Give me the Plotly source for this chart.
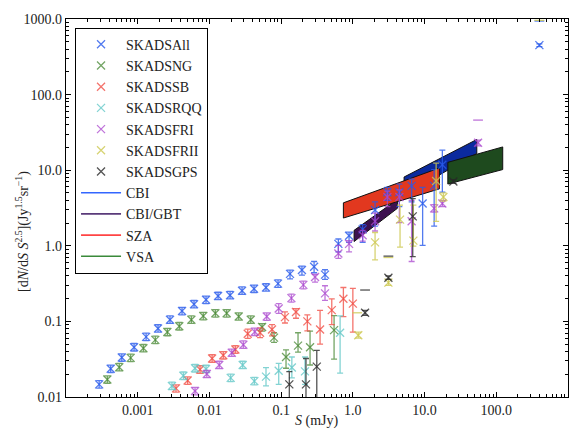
import plotly.graph_objects as go

# ---------------- data ----------------
all_S = [2.9e-4, 4.2e-4, 6.0e-4, 8.9e-4, 1.31e-3, 1.92e-3, 2.82e-3, 4.15e-3, 6.1e-3, 8.97e-3,
         0.0132, 0.0194, 0.0285, 0.0419, 0.0615, 0.0905, 0.133, 0.195, 0.288, 0.409,
         0.628, 0.885, 1.37, 2.04, 3.03, 4.45, 6.6, 9.4, 13.6, 17.7, 399]
all_N = [0.0147, 0.0236, 0.0333, 0.0455, 0.0624, 0.0806, 0.105, 0.137, 0.169, 0.193,
         0.217, 0.222, 0.255, 0.270, 0.281, 0.316, 0.425, 0.478, 0.527, 0.416,
         1.06, 1.36, 1.65, 2.98, 5.12, 5.12, 6.2, 3.63, 6.2, 11.8, 451]
all_hi = [0.0165, 0.0264, 0.0373, 0.051, 0.07, 0.0903, 0.118, 0.153, 0.189, 0.216,
          0.243, 0.249, 0.286, 0.302, 0.315, 0.354, 0.478, 0.54, 0.62, 0.482,
          1.23, 1.52, 1.91, 3.81, 5.93, 6.56, 7.6, 5.93, 10.2, 18.4, 470]
all_lo = [0.0131, 0.0211, 0.0297, 0.0406, 0.0557, 0.072, 0.094, 0.122, 0.151, 0.172,
          0.194, 0.198, 0.228, 0.241, 0.251, 0.282, 0.366, 0.41, 0.44, 0.359,
          0.83, 1.11, 1.11, 1.82, 4.0, 3.29, 3.81, 1.01, 1.82, 5.12, 430]
all_cap_S = [399]
all_cap_N = [940]

ng_S = [3.77e-4, 5.53e-4, 7.98e-4, 1.2e-3, 1.76e-3, 2.59e-3, 3.8e-3, 5.6e-3, 8.2e-3, 0.0121,
        0.0174, 0.0256, 0.0377, 0.0542, 0.0796, 0.117, 0.172, 0.253, 0.547]
ng_N = [0.017, 0.0248, 0.0329, 0.0442, 0.057, 0.0723, 0.0863, 0.105, 0.118, 0.128,
        0.128, 0.116, 0.105, 0.0845, 0.061, 0.0338, 0.0478, 0.0455, 0.0767]
ng_hi = [0.019, 0.0278, 0.0368, 0.0495, 0.064, 0.081, 0.0967, 0.118, 0.132, 0.143,
         0.143, 0.13, 0.118, 0.0933, 0.0708, 0.042, 0.0708, 0.0745, 0.119]
ng_lo = [0.0152, 0.0221, 0.0294, 0.0395, 0.0509, 0.0646, 0.077, 0.094, 0.105, 0.114,
         0.114, 0.104, 0.094, 0.0745, 0.0527, 0.024, 0.0393, 0.0265, 0.0316]

sb_S = [3.42e-3, 4.97e-3, 7.4e-3, 0.0109, 0.0156, 0.023, 0.0342, 0.0508, 0.0746, 0.113,
        0.161, 0.232, 0.349, 0.508, 0.738, 1.0]
sb_N = [0.013, 0.0165, 0.0231, 0.0323, 0.0356, 0.0425, 0.0687, 0.0708, 0.0783, 0.114,
        0.133, 0.1, 0.078, 0.141, 0.199, 0.172]
sb_hi = [0.0145, 0.0185, 0.0259, 0.0362, 0.0399, 0.0476, 0.079, 0.0821, 0.0906, 0.134,
         0.148, 0.122, 0.14, 0.198, 0.281, 0.273]
sb_lo = [0.0116, 0.0147, 0.0206, 0.0288, 0.0318, 0.0379, 0.0597, 0.0611, 0.0642, 0.0952,
         0.11, 0.075, 0.05, 0.0907, 0.116, 0.0723]

rqq_S = [3.0e-3, 4.33e-3, 6.3e-3, 8.97e-3, 0.0198, 0.0291, 0.0423, 0.0615, 0.0925, 0.141,
         0.215, 0.664]
rqq_N = [0.014, 0.0191, 0.024, 0.0235, 0.0179, 0.0265, 0.0162, 0.0186, 0.0222, 0.0245,
         0.0218, 0.0708]
rqq_hi = [0.0157, 0.0214, 0.0269, 0.0263, 0.0201, 0.0297, 0.0182, 0.0245, 0.0278, 0.0338,
          0.0338, 0.118]
rqq_lo = [0.0125, 0.017, 0.0214, 0.021, 0.016, 0.0237, 0.0145, 0.014, 0.0147, 0.0179,
          0.0147, 0.0207]

fri_S = [6.3e-3, 9.2e-3, 0.0137, 0.0205, 0.0297, 0.0429, 0.063, 0.0925, 0.139, 0.204,
         0.297, 0.409, 0.628, 0.885, 1.37, 2.04, 3.03, 4.45, 6.6, 13.6, 17.7, 55.7]
fri_N = [0.012, 0.0201, 0.0265, 0.0385, 0.0492, 0.0729, 0.116, 0.148, 0.203, 0.304,
         0.386, 0.235, 0.79, 1.06, 1.38, 2.11, 4.42, 4.42, 2.11, 3.13, 3.63, 23.1]
fri_hi = [0.0134, 0.0225, 0.0297, 0.0431, 0.0551, 0.0816, 0.13, 0.172, 0.23, 0.34,
          0.42, 0.296, 1.01, 1.17, 1.6, 2.7, 5.3, 5.5, 4.0, 3.5, 4.0, 25.0]
fri_lo = [0.0107, 0.018, 0.0237, 0.0344, 0.044, 0.0651, 0.103, 0.128, 0.18, 0.27,
          0.33, 0.19, 0.68, 0.83, 1.15, 1.57, 3.3, 2.03, 0.62, 2.8, 3.3, 21.0]
fri_cap_S = [55.7]
fri_cap_N = [46]

frii_S = [1.19, 2.04, 3.13, 4.55, 6.98, 14.5, 18.3]
frii_N = [0.0656, 1.11, 0.326, 2.22, 1.17, 7.2, 4.42]
frii_hi = [0.072, 1.5, 0.36, 3.45, 3.45, 12.4, 5.0]
frii_lo = [0.06, 0.65, 0.3, 0.96, 0.99, 2.11, 3.9]
frii_cap_S = [1.15, 3.13, 399]
frii_cap_N = [0.13, 0.70, 960]

gps_S = [0.13, 0.222, 0.314, 1.48, 3.13, 6.84, 25.2]
gps_N = [0.0147, 0.0147, 0.0252, 0.13, 0.378, 2.45, 7.08]
gps_hi = [0.0217, 0.0323, 0.0413, 0.14, 0.4, 4.2, 7.5]
gps_lo = [0.001, 0.001, 0.001, 0.12, 0.36, 0.72, 6.7]
gps_cap_S = [1.48, 3.13]
gps_cap_N = [0.26, 0.73]

# observational bands: S range, lower and upper edge at each end
band_names = ["CBI", "CBI/GBT", "SZA", "VSA"]
band_S = [[5.18, 53.5], [1.04, 4.18], [0.738, 16.1], [21.1, 123]]
band_lo = [[4.64, 16.7], [1.14, 3.13], [2.33, 5.66], [6.56, 10.2]]
band_hi = [[8.13, 25.5], [1.6, 4.1], [3.7, 10.7], [12.7, 20.3]]
band_fill = ["#0b2a9e", "#3d1150", "#e2381f", "#1e4a1e"]
band_line = ["#3366ff", "#5a3a7a", "#ff4444", "#3a8a3a"]

series = [
    ("SKADSAll", all_S, all_N, all_hi, all_lo, all_cap_S, all_cap_N, "rgba(40,90,235,0.8)"),
    ("SKADSNG", ng_S, ng_N, ng_hi, ng_lo, [], [], "rgba(70,135,50,0.75)"),
    ("SKADSSB", sb_S, sb_N, sb_hi, sb_lo, [], [], "rgba(240,70,60,0.75)"),
    ("SKADSRQQ", rqq_S, rqq_N, rqq_hi, rqq_lo, [], [], "rgba(100,200,200,0.8)"),
    ("SKADSFRI", fri_S, fri_N, fri_hi, fri_lo, fri_cap_S, fri_cap_N, "rgba(170,70,205,0.75)"),
    ("SKADSFRII", frii_S, frii_N, frii_hi, frii_lo, frii_cap_S, frii_cap_N, "rgba(205,200,80,0.8)"),
    ("SKADSGPS", gps_S, gps_N, gps_hi, gps_lo, gps_cap_S, gps_cap_N, "rgba(40,40,40,0.8)"),
]

xtick_vals = [0.001, 0.01, 0.1, 1, 10, 100, 1000]
xtick_text = ["0.001", "0.01", "0.1", "1.0", "10.0", "100.0", "1000.0"]
ytick_vals = [0.01, 0.1, 1, 10, 100, 1000]
ytick_text = ["0.01", "0.1", "1.0", "10.0", "100.0", "1000.0"]

FONT = "Liberation Serif"

fig = go.Figure()

# bands
for i, nm in enumerate(band_names):
    xs = [band_S[i][0], band_S[i][1], band_S[i][1], band_S[i][0], band_S[i][0]]
    ys = [band_lo[i][0], band_lo[i][1], band_hi[i][1], band_hi[i][0], band_lo[i][0]]
    fig.add_trace(go.Scatter(x=xs, y=ys, mode="lines", fill="toself",
                             fillcolor=band_fill[i], line=dict(color="#111111", width=1),
                             showlegend=False, hoverinfo="skip"))

# SKADS points
for name, S, N, hi, lo, cS, cN, col in series:
    up = [h - n for h, n in zip(hi, N)]
    dn = [n - l for n, l in zip(N, lo)]
    fig.add_trace(go.Scatter(
        x=S, y=N, mode="markers", name=name,
        marker=dict(symbol="x-thin", size=8, line=dict(color=col, width=1.3)),
        error_y=dict(type="data", symmetric=False, array=up, arrayminus=dn,
                     color=col, thickness=1.3, width=3),
    ))
    if cS:
        # error caps of bins whose central value is zero (not drawable on log axis)
        fig.add_trace(go.Scatter(
            x=cS, y=cN, mode="markers", showlegend=False, hoverinfo="skip",
            marker=dict(symbol="line-ew", size=7, line=dict(color=col, width=1.3)),
        ))

# legend lines for bands
for i, nm in enumerate(band_names):
    fig.add_trace(go.Scatter(x=[None], y=[None], mode="lines", name=nm,
                             line=dict(color=band_line[i], width=1.6)))

minor_x = [m * 10 ** k for k in range(-4, 3) for m in range(2, 10)]
minor_y = [m * 10 ** k for k in range(-2, 3) for m in range(2, 10)]

axis_common = dict(type="log", showgrid=False, zeroline=False, showline=True,
                   linecolor="black", linewidth=1.2, mirror="allticks",
                   ticks="inside", ticklen=5, tickcolor="black",
                   tickfont=dict(family=FONT, size=14, color="#222"))

fig.update_xaxes(range=[-4, 3], tickvals=xtick_vals, ticktext=xtick_text,
                 minor=dict(tickvals=minor_x, ticks="inside", ticklen=2.5, tickcolor="black"),
                 **axis_common)
fig.update_yaxes(range=[-2, 3], tickvals=ytick_vals, ticktext=ytick_text,
                 minor=dict(tickvals=minor_y, ticks="inside", ticklen=2.5, tickcolor="black"),
                 **axis_common)

fig.update_layout(
    width=587, height=430,
    margin=dict(l=66, r=19, t=13, b=27),
    paper_bgcolor="white", plot_bgcolor="white",
    font=dict(family=FONT, size=13, color="#222"),
    legend=dict(x=0.018, y=0.977, xanchor="left", yanchor="top",
                bordercolor="black", borderwidth=1, bgcolor="white",
                font=dict(family=FONT, size=14, color="#222"),
                tracegroupgap=0, itemwidth=40),
    annotations=[
        dict(text="[d<i>N</i>/d<i>S</i> <i>S</i><sup>2.5</sup>](Jy<sup>1.5</sup>sr<sup>\u22121</sup>)",
             xref="paper", yref="paper", x=0, y=0.5, xshift=-44, yshift=-24, textangle=-90,
             xanchor="center", yanchor="middle", showarrow=False,
             font=dict(family=FONT, size=14, color="#222")),
        dict(text="<i>S</i> (mJy)", xref="paper", yref="paper", x=0.5, y=0, yshift=-24,
             xanchor="center", yanchor="middle", showarrow=False,
             font=dict(family=FONT, size=14, color="#222")),
    ],
)

fig.write_html("out.html")
